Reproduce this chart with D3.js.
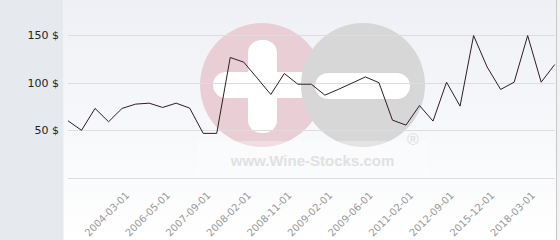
<!DOCTYPE html>
<html><head><meta charset="utf-8">
<script src="https://cdn.jsdelivr.net/npm/d3@7"></script>
<style>html,body{margin:0;padding:0;background:#fff;}svg{display:block;}</style>
</head><body>
<svg id="chart" width="560" height="240"></svg>
<script>
// data
const prices = [60, 50, 73, 59, 73, 77.5, 78.5, 74, 78.5, 73.3, 46.8, 46.8, 126.4, 121.5, 104.7, 87.6, 109.6, 98.4, 98.4, 86.9, 93, 99.5, 106, 100, 60.7, 55.5, 76, 59.7, 100.5, 75.4, 149.4, 116.5, 92.9, 100.5, 149.4, 100.5, 119];
const tickIndices = [5, 8, 11, 14, 17, 20, 23, 26, 29, 32, 35];
const tickLabels = ["2004-03-01", "2006-05-01", "2007-09-01", "2008-02-01", "2008-11-01", "2009-02-01", "2009-06-01", "2011-02-01", "2012-09-01", "2015-12-01", "2018-03-01"];
const yTicks = [0, 50, 100, 150];

const svg = d3.select("#chart");
const W = 560, H = 240;

const defs = svg.append("defs");
const grad = defs.append("linearGradient").attr("id", "bg").attr("x1", 0).attr("y1", 0).attr("x2", 0).attr("y2", 1);
grad.append("stop").attr("offset", "0%").attr("stop-color", "#eef0f5");
grad.append("stop").attr("offset", "100%").attr("stop-color", "#ffffff");

// panels
svg.append("rect").attr("x", 0).attr("y", 0).attr("width", W).attr("height", H).attr("fill", "#f2f2f2");
svg.append("rect").attr("x", 0).attr("y", 0).attr("width", 63).attr("height", H).attr("fill", "#e6eaee");
svg.append("rect").attr("x", 64).attr("y", 0).attr("width", 492).attr("height", H).attr("fill", "url(#bg)");
svg.append("line").attr("x1", 556.5).attr("x2", 556.5).attr("y1", 0).attr("y2", H).attr("stroke", "#c8c8c8");

const x = d3.scalePoint().domain(d3.range(prices.length)).range([68, 554.7]);
const y = d3.scaleLinear().domain([0, 150]).range([178, 35]);

// watermark
const wm = svg.append("g");
wm.append("circle").attr("cx", 262).attr("cy", 85).attr("r", 62).attr("fill", "#e9cfd5");
wm.append("rect").attr("x", 248).attr("y", 40).attr("width", 29).attr("height", 93).attr("rx", 13).attr("fill", "#ffffff");
wm.append("rect").attr("x", 213).attr("y", 72).attr("width", 100).attr("height", 26).attr("rx", 13).attr("fill", "#ffffff");
wm.append("circle").attr("cx", 363).attr("cy", 85).attr("r", 62).attr("fill", "#d7d7d8");
wm.append("rect").attr("x", 315).attr("y", 73).attr("width", 95).attr("height", 26).attr("rx", 13).attr("fill", "#ffffff");
wm.append("rect").attr("x", 197).attr("y", 141).attr("width", 232).attr("height", 33).attr("fill", "#ffffff").attr("opacity", 0.3);
wm.append("text").attr("x", 312.5).attr("y", 166).attr("text-anchor", "middle")
  .attr("font-family", "Liberation Sans, Arial, sans-serif").attr("font-weight", "bold").attr("font-size", 15)
  .attr("fill", "#e1e1e1").text("www.Wine-Stocks.com");
wm.append("text").attr("x", 413).attr("y", 145).attr("text-anchor", "middle")
  .attr("font-family", "Liberation Sans, Arial, sans-serif").attr("font-size", 16)
  .attr("fill", "#dedede").text("®");

// y grid + labels
const yAxis = d3.axisLeft(y).tickValues(yTicks).tickSize(-(555 - 68)).tickFormat(d => d === 0 ? "" : d + " $");
const gy = svg.append("g").attr("transform", "translate(68,0)").call(yAxis);
gy.select(".domain").remove();
gy.selectAll(".tick line").attr("stroke", "#dddddd").attr("shape-rendering", "crispEdges");
gy.selectAll(".tick text").attr("x", -9).attr("font-family", "DejaVu Sans, sans-serif").attr("font-size", 11).attr("fill", "#222");

// x labels
const xAxis = d3.axisBottom(x).tickValues(tickIndices).tickSize(0).tickFormat((d, i) => tickLabels[i]);
const gx = svg.append("g").attr("transform", "translate(0,178)").call(xAxis);
gx.select(".domain").remove();
gx.selectAll(".tick text")
  .attr("font-family", "DejaVu Sans, sans-serif").attr("font-size", 10).attr("fill", "#999")
  .attr("text-anchor", "end").attr("dy", null).attr("y", null)
  .attr("transform", "translate(-6,18) rotate(-45)");

// line
const line = d3.line().x((d, i) => x(i)).y(d => y(d));
svg.append("path").datum(prices).attr("d", line).attr("fill", "none").attr("stroke", "#2e1c27").attr("stroke-width", 1);
</script>
</body></html>
